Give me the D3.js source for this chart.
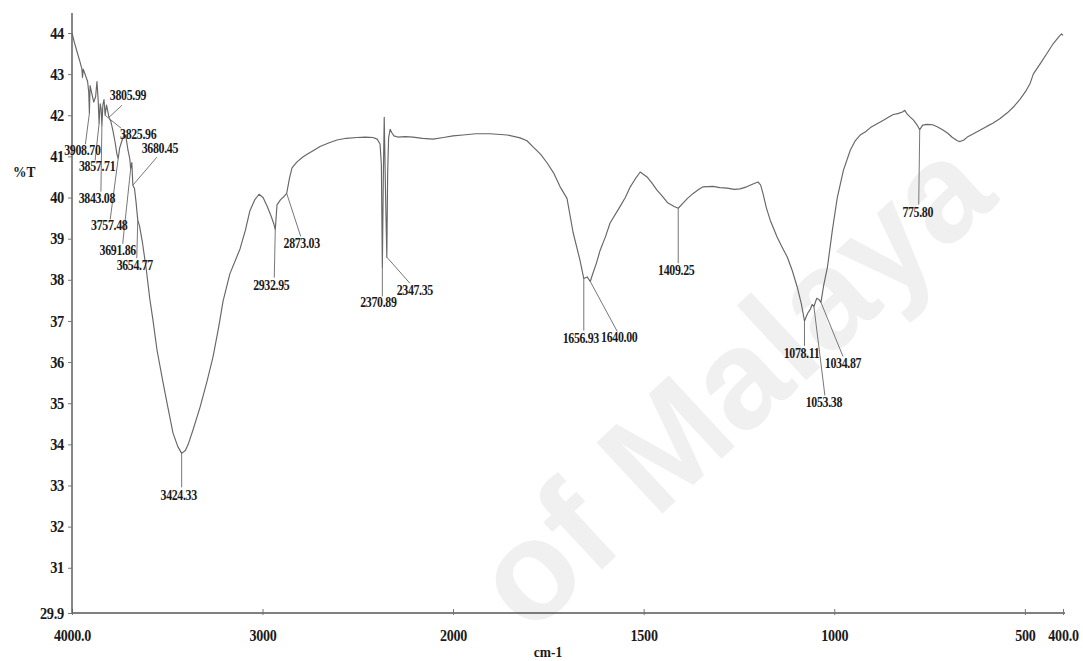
<!DOCTYPE html>
<html>
<head>
<meta charset="utf-8">
<script src="https://cdn.jsdelivr.net/npm/d3@7"></script>
<style>
  html, body { margin: 0; padding: 0; background: #ffffff; }
  svg { display: block; }
</style>
</head>
<body>
<svg id="chart" width="1083" height="661"></svg>
<script>
// FTIR spectrum: wavenumber (cm-1) and transmittance (%T)
const wavenumbers = [
  4000, 3988, 3972, 3958, 3948, 3945, 3941, 3930, 3918, 3912, 3908.70, 3905, 3897, 3886, 3876, 3869, 3863,
  3857.71, 3852, 3847, 3843.08, 3838, 3832, 3825.96, 3819, 3813, 3805.99, 3796, 3785, 3774, 3764, 3757.48,
  3750, 3738, 3725, 3716, 3706, 3697, 3691.86, 3686, 3680.45, 3672, 3664, 3654.77, 3645, 3630, 3610, 3592,
  3575, 3554, 3522, 3500, 3470, 3445, 3424.33, 3405, 3390, 3365, 3328, 3292, 3260, 3230, 3207, 3171, 3140,
  3118, 3090, 3066, 3040, 3018, 2997, 2975, 2955, 2940, 2932.95, 2924, 2905, 2888, 2873.03, 2858, 2845, 2820,
  2790, 2766, 2730, 2698, 2650, 2609, 2560, 2504, 2460, 2420, 2398, 2383, 2376, 2370.89, 2366, 2361, 2356,
  2352, 2347.35, 2343, 2338, 2330, 2322, 2310, 2290, 2250, 2210, 2160, 2105, 2050, 2000, 1974, 1940, 1903,
  1858, 1824, 1806, 1790, 1770, 1753, 1735, 1719, 1701, 1685, 1667, 1656.93, 1648, 1640.00, 1633, 1624, 1614,
  1600, 1588, 1562, 1548, 1535, 1520, 1509, 1491, 1478, 1465, 1450, 1438, 1420, 1409.25, 1396, 1385, 1370,
  1355, 1344, 1318, 1300, 1281, 1262, 1247, 1230, 1213, 1200, 1193, 1187, 1178, 1168, 1150, 1137, 1123, 1110,
  1097, 1086, 1078.11, 1070, 1063, 1058, 1053.38, 1046, 1040, 1034.87, 1028, 1018, 1005, 992, 976, 958, 945,
  932, 918, 905, 890, 871, 858, 845, 833, 821, 815, 808, 800, 792, 784, 775.80, 768, 756, 742, 730, 716, 703,
  690, 677, 670, 660, 651, 635, 617, 600, 583, 565, 546, 528, 512, 498, 486, 478, 460, 441, 425, 410, 404, 400
];
const transmittance = [
  44.00, 43.78, 43.52, 43.30, 43.12, 42.92, 43.12, 42.98, 42.82, 42.55, 42.05, 42.72, 42.55, 42.32, 42.45, 42.82, 42.40,
  41.80, 42.28, 42.15, 41.75, 42.25, 42.38, 42.00, 42.25, 42.12, 41.95, 41.85, 41.62, 41.35, 41.05, 40.95,
  41.20, 41.38, 41.55, 41.45, 41.15, 40.95, 40.70, 40.85, 40.30, 40.22, 39.90, 39.45, 39.30, 38.90, 38.25, 37.55,
  37.02, 36.30, 35.50, 34.98, 34.28, 33.95, 33.78, 33.85, 34.00, 34.35, 34.90, 35.52, 36.12, 36.85, 37.48, 38.15, 38.50,
  38.75, 39.20, 39.68, 39.95, 40.08, 40.00, 39.78, 39.55, 39.35, 39.22, 39.82, 39.95, 40.02, 40.10, 40.48, 40.72, 40.86,
  40.98, 41.05, 41.15, 41.24, 41.33, 41.40, 41.44, 41.46, 41.47, 41.46, 41.42, 41.30, 40.80, 38.30, 40.40, 41.95, 40.60,
  39.60, 38.55, 40.60, 41.45, 41.66, 41.58, 41.50, 41.47, 41.48, 41.47, 41.44, 41.42, 41.46, 41.50, 41.52, 41.55, 41.55,
  41.52, 41.45, 41.38, 41.23, 41.05, 40.84, 40.58, 40.26, 39.98, 39.15, 38.48, 38.03, 38.07, 37.96, 38.16, 38.40, 38.72,
  39.05, 39.38, 39.78, 40.00, 40.26, 40.48, 40.62, 40.50, 40.35, 40.18, 40.02, 39.88, 39.78, 39.74, 39.87, 39.98, 40.10,
  40.20, 40.26, 40.27, 40.24, 40.23, 40.20, 40.21, 40.26, 40.33, 40.38, 40.30, 40.10, 39.75, 39.45, 39.04, 38.80, 38.55, 38.22,
  37.82, 37.40, 37.00, 37.18, 37.28, 37.40, 37.35, 37.55, 37.52, 37.45, 37.85, 38.30, 39.20, 40.00, 40.66, 41.15, 41.38,
  41.52, 41.60, 41.70, 41.78, 41.88, 41.95, 42.02, 42.04, 42.08, 42.12, 42.02, 41.95, 41.88, 41.78, 41.65, 41.76, 41.78, 41.77, 41.72, 41.65, 41.57,
  41.46, 41.38, 41.36, 41.40, 41.47, 41.55, 41.64, 41.73, 41.81, 41.92, 42.06, 42.22, 42.40, 42.58, 42.78, 43.00, 43.25, 43.52, 43.75, 43.92, 43.98, 43.94
];

// Picked peaks (cm-1)
const peaks = [3908.70, 3857.71, 3843.08, 3825.96, 3805.99, 3757.48, 3691.86, 3680.45, 3654.77, 3424.33,
  2932.95, 2873.03, 2370.89, 2347.35, 1656.93, 1640.00, 1409.25, 1078.11, 1053.38, 1034.87, 775.80];

// Axis ticks
const xTickValues = [4000, 3000, 2000, 1500, 1000, 500, 400];
const xTickLabels = ["4000.0", "3000", "2000", "1500", "1000", "500", "400.0"];
const yTickValues = [29.9, 31, 32, 33, 34, 35, 36, 37, 38, 39, 40, 41, 42, 43, 44];
const yTickLabels = ["29.9", "31", "32", "33", "34", "35", "36", "37", "38", "39", "40", "41", "42", "43", "44"];

// Peak label placement: [label dx, label dy, leader end dx, leader end dy] from the peak point
const peakLabelLayout = [
  [-7, 42, -4, 31], [-2, 48, -4, 37], [-5, 77, -1, 66], [33, 24, 16, 13], [19, -17, 13, -12],
  [-9, 72, -8, 61], [-13, 86, -8, 75], [27, -32, 24, -28], [-3, 50, -1, 38], [-3, 47, 0, 34],
  [-4, 60, -1, 48], [15, 55, 14, 43], [-4, 40, 0, 29], [28, 38, 23, 26], [-3, 64, 0, 52],
  [29, 61, 27, 50], [-2, 67, 0, 55], [-3, 37, 0, 25], [10, 100, 11, 89], [22, 66, 22, 54], [-2, 87, -1, 75]
];

const svg = d3.select("#chart");
const W = 1083, H = 661;

// The wavenumber axis doubles its scale below 2000 cm-1
const x = d3.scaleLinear().domain([4000, 2000, 400]).range([72, 453, 1063]);
const y = d3.scaleLinear().domain([29.9, 44]).range([613, 33]);

svg.append("rect").attr("width", W).attr("height", H).attr("fill", "#ffffff");

// Faint diagonal watermark behind the plot
svg.append("text")
  .attr("transform", "translate(529,637) rotate(-42.8)")
  .attr("font-family", "Liberation Sans, Arial, sans-serif")
  .attr("font-weight", "bold")
  .attr("font-size", 141)
  .attr("fill", "#f0f0f0")
  .text("of Malaya");

const serif = "Liberation Serif, Times New Roman, serif";
const ink = "#1a1a1a";

// Axes
const xAxis = d3.axisBottom(x).tickValues(xTickValues).tickSize(0).tickFormat((d, i) => xTickLabels[i]);
const gx = svg.append("g").attr("transform", `translate(0,${y(29.9)})`).call(xAxis);
gx.select(".domain").attr("d", `M${x(4000)},0H${x(400) + 2}`).attr("stroke", "#555").attr("stroke-width", 1.4);
gx.selectAll(".tick line").remove();
gx.selectAll(".tick").append("line").attr("y1", -4).attr("y2", 2).attr("stroke", "#777").attr("stroke-width", 1);
gx.selectAll(".tick text")
  .attr("y", 0).attr("dy", 0)
  .attr("transform", "translate(0,28) scale(0.88,1)")
  .attr("font-family", serif).attr("font-size", 16).attr("font-weight", "bold")
  .attr("fill", ink).attr("letter-spacing", -0.3);

const yAxis = d3.axisLeft(y).tickValues(yTickValues).tickSize(0).tickFormat((d, i) => yTickLabels[i]);
const gy = svg.append("g").attr("transform", `translate(${x(4000)},0)`).call(yAxis);
gy.select(".domain").attr("d", `M0,13V${y(29.9)}`).attr("stroke", "#555").attr("stroke-width", 1.4);
gy.selectAll(".tick line").remove();
gy.selectAll(".tick").append("line").attr("x1", -4).attr("x2", 0).attr("stroke", "#777").attr("stroke-width", 1);
gy.selectAll(".tick text")
  .attr("x", 0).attr("dy", "0.32em")
  .attr("transform", "translate(-8,0) scale(0.9,1)")
  .attr("font-family", serif).attr("font-size", 16).attr("font-weight", "bold")
  .attr("fill", ink).attr("letter-spacing", -0.3);

// Axis titles
svg.append("text").attr("transform", "translate(13,177) scale(0.9,1)")
  .attr("font-family", serif).attr("font-size", 15).attr("font-weight", "bold").attr("fill", ink)
  .text("%T");
svg.append("text").attr("transform", "translate(548,657) scale(0.9,1)")
  .attr("text-anchor", "middle")
  .attr("font-family", serif).attr("font-size", 15).attr("font-weight", "bold").attr("fill", ink)
  .text("cm-1");

// Spectrum trace
const spectrum = wavenumbers.map((w, i) => ({ w, t: transmittance[i] }));
const line = d3.line().x(d => x(d.w)).y(d => y(d.t));
svg.append("path").datum(spectrum)
  .attr("d", line)
  .attr("fill", "none")
  .attr("stroke", "#666")
  .attr("stroke-width", 1.15)
  .attr("stroke-linejoin", "round");

// Peak markers and labels
const peakData = peaks.map((w, i) => {
  const t = transmittance[wavenumbers.indexOf(w)];
  const [ldx, ldy, edx, edy] = peakLabelLayout[i];
  return { w, t, px: x(w), py: y(t), ldx, ldy, edx, edy };
});

const pg = svg.append("g");
pg.selectAll("line.leader").data(peakData).join("line")
  .attr("class", "leader")
  .attr("x1", d => d.px).attr("y1", d => d.py)
  .attr("x2", d => d.px + d.edx).attr("y2", d => d.py + d.edy)
  .attr("stroke", "#777").attr("stroke-width", 1);

pg.selectAll("text.peak").data(peakData).join("text")
  .attr("class", "peak")
  .attr("transform", d => `translate(${d.px + d.ldx},${d.py + d.ldy}) scale(0.85,1)`)
  .attr("text-anchor", "middle")
  .attr("font-family", serif).attr("font-size", 14).attr("font-weight", "bold")
  .attr("fill", ink).attr("letter-spacing", -0.4)
  .text(d => d.w.toFixed(2));
</script>
</body>
</html>
